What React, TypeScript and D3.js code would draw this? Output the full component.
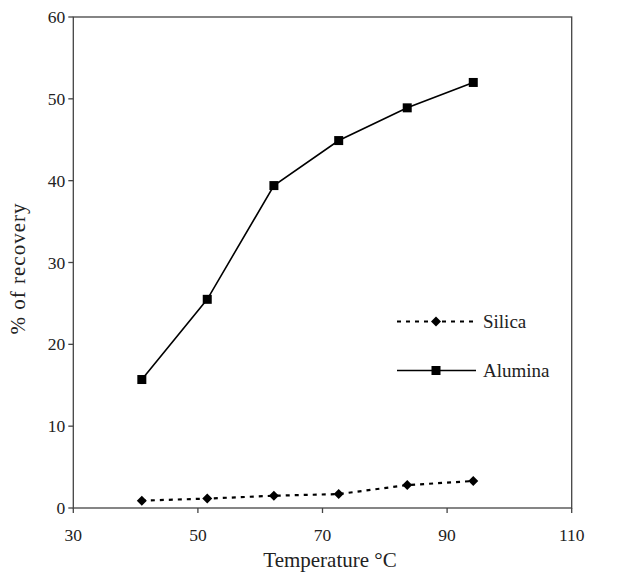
import React from "react";
import * as d3 from "d3";

const silicaX = [41.0, 51.5, 62.2, 72.6, 83.6, 94.2];
const silicaY = [0.9, 1.15, 1.5, 1.7, 2.8, 3.3];
const aluminaX = [41.0, 51.5, 62.2, 72.6, 83.6, 94.2];
const aluminaY = [15.7, 25.5, 39.4, 44.9, 48.9, 52.0];
const xTicks = [30, 50, 70, 90, 110];
const yTicks = [0, 10, 20, 30, 40, 50, 60];

export default function App() {
  const W = 617, H = 572;
  const L = 73.3, R = 571.7, T = 17, B = 508;
  const x = d3.scaleLinear().domain([30, 110]).range([L, R]);
  const y = d3.scaleLinear().domain([0, 60]).range([B, T]);
  const font = "'Liberation Serif', 'Times New Roman', serif";
  const line = d3.line<[number, number]>().x(d => x(d[0])).y(d => y(d[1]));
  const sil = silicaX.map((v, i) => [v, silicaY[i]] as [number, number]);
  const alu = aluminaX.map((v, i) => [v, aluminaY[i]] as [number, number]);
  const diamond = (cx: number, cy: number, s: number) =>
    `M${cx},${cy - s}L${cx + s},${cy}L${cx},${cy + s}L${cx - s},${cy}Z`;
  const axisColor = "#444";
  return (
    <svg width={W} height={H} style={{ position: "absolute", left: 0, top: 0, background: "#fff" }}>
      <rect x={L} y={T} width={R - L} height={B - T} fill="none" stroke={axisColor} strokeWidth={1.3} />
      {yTicks.map(t => (
        <g key={"y" + t}>
          <line x1={L - 5} x2={L} y1={y(t)} y2={y(t)} stroke={axisColor} strokeWidth={1.3} />
          <text x={L - 8} y={y(t)} dy="0.35em" textAnchor="end" fontFamily={font} fontSize={17.5} fill="#222">{t}</text>
        </g>
      ))}
      {xTicks.map(t => (
        <g key={"x" + t}>
          <line x1={x(t)} x2={x(t)} y1={B} y2={B + 5} stroke={axisColor} strokeWidth={1.3} />
          <text x={x(t)} y={B + 33} textAnchor="middle" fontFamily={font} fontSize={17.5} fill="#222">{t}</text>
        </g>
      ))}
      <text x={330} y={567} textAnchor="middle" fontFamily={font} fontSize={21} fill="#222">Temperature °C</text>
      <text transform={`translate(25,${(T + B) / 2 + 6}) rotate(-90)`} textAnchor="middle" fontFamily={font} fontSize={21} fill="#222" letterSpacing={1}>% of recovery</text>

      <path d={line(sil) || ""} fill="none" stroke="#000" strokeWidth={2.2} strokeDasharray="4,5" />
      {sil.map((d, i) => (
        <path key={"s" + i} d={diamond(x(d[0]), y(d[1]), 5)} fill="#000" />
      ))}
      <path d={line(alu) || ""} fill="none" stroke="#000" strokeWidth={1.6} />
      {alu.map((d, i) => (
        <rect key={"a" + i} x={x(d[0]) - 4.5} y={y(d[1]) - 4.5} width={9} height={9} fill="#000" />
      ))}

      <line x1={397} x2={476} y1={321.5} y2={321.5} stroke="#000" strokeWidth={2.2} strokeDasharray="4,5" />
      <path d={diamond(436, 321.5, 5)} fill="#000" />
      <text x={483} y={328} fontFamily={font} fontSize={19} fill="#222">Silica</text>
      <line x1={397} x2={476} y1={370.5} y2={370.5} stroke="#000" strokeWidth={1.6} />
      <rect x={431.5} y={366} width={9} height={9} fill="#000" />
      <text x={483} y={377} fontFamily={font} fontSize={19} fill="#222">Alumina</text>
    </svg>
  );
}
